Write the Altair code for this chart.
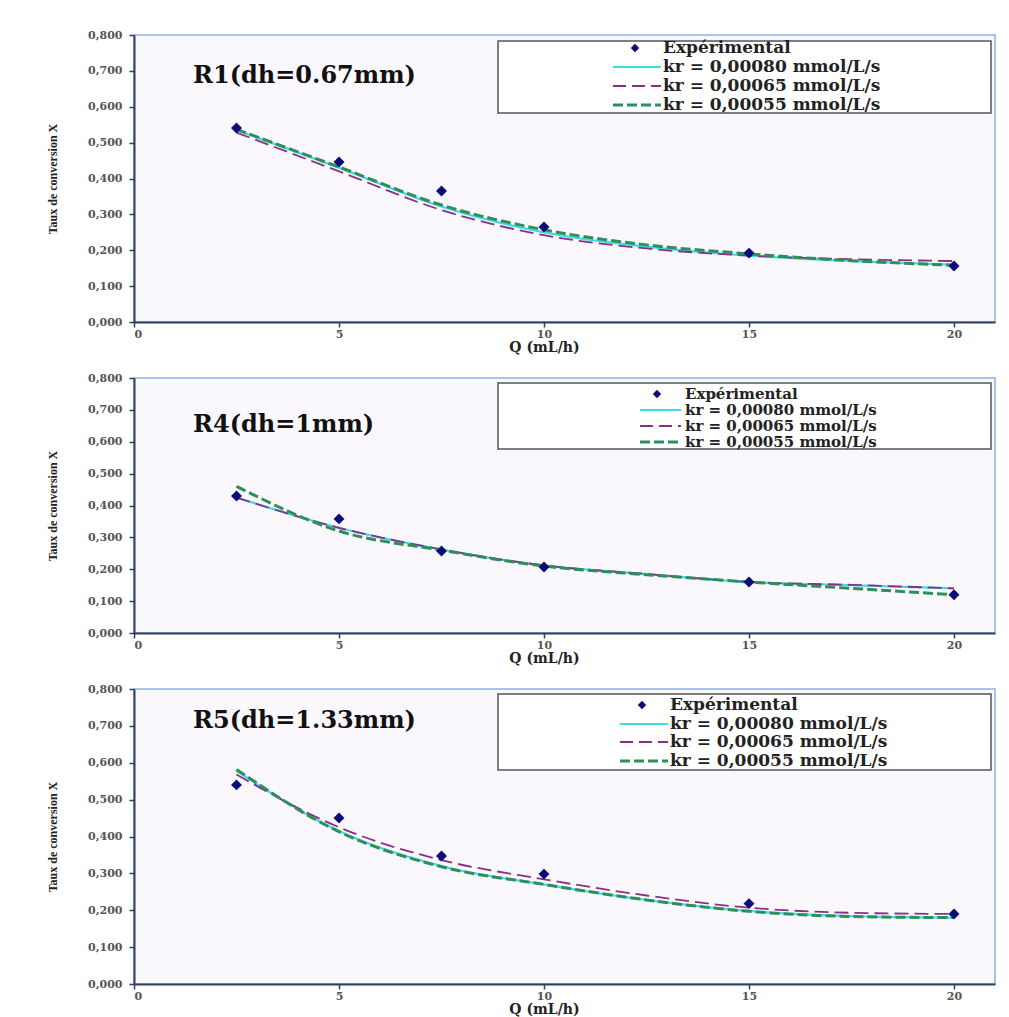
import altair as alt
import pandas as pd

# ---------------- data ----------------
Q_EXP = [2.5, 5, 7.5, 10, 15, 20]
Q_MODEL = [2.5, 5, 7.5, 10, 12.5, 15, 17.5, 20]
SERIES = ["Expérimental", "kr = 0,00080 mmol/L/s", "kr = 0,00065 mmol/L/s", "kr = 0,00055 mmol/L/s"]
PANEL_TITLES = ["R1(dh=0.67mm)", "R4(dh=1mm)", "R5(dh=1.33mm)"]
X_TICKS = [0, 5, 10, 15, 20]
Y_TICKS = [0.0, 0.1, 0.2, 0.3, 0.4, 0.5, 0.6, 0.7, 0.8]

R1_EXP = [0.541, 0.446, 0.365, 0.265, 0.192, 0.156]
R1_K80 = [0.535, 0.430, 0.322, 0.250, 0.210, 0.185, 0.170, 0.160]
R1_K65 = [0.528, 0.420, 0.312, 0.242, 0.205, 0.185, 0.175, 0.170]
R1_K55 = [0.537, 0.432, 0.326, 0.257, 0.215, 0.190, 0.171, 0.158]

R4_EXP = [0.430, 0.358, 0.257, 0.207, 0.160, 0.120]
R4_K80 = [0.425, 0.330, 0.262, 0.212, 0.185, 0.160, 0.150, 0.140]
R4_K65 = [0.425, 0.330, 0.262, 0.212, 0.185, 0.160, 0.151, 0.140]
R4_K55 = [0.460, 0.320, 0.260, 0.210, 0.183, 0.160, 0.140, 0.120]

R5_EXP = [0.540, 0.450, 0.347, 0.298, 0.218, 0.190]
R5_K80 = [0.578, 0.415, 0.320, 0.270, 0.228, 0.198, 0.184, 0.180]
R5_K65 = [0.568, 0.425, 0.336, 0.284, 0.240, 0.207, 0.193, 0.190]
R5_K55 = [0.582, 0.413, 0.318, 0.270, 0.228, 0.197, 0.183, 0.180]

PANELS = [
    (R1_EXP, R1_K80, R1_K65, R1_K55),
    (R4_EXP, R4_K80, R4_K65, R4_K55),
    (R5_EXP, R5_K80, R5_K65, R5_K55),
]

# ---------------- style ----------------
COL_EXP = "#0b0b7a"
COL_K80 = "#3fdbe3"
COL_K65 = "#8a2f86"
COL_K55 = "#2f8f5a"
DASH_K80 = [1, 0]
DASH_K65 = [14, 6]
DASH_K55 = [10, 4]
WIDTH_K = [2.2, 1.8, 3.0]

PANEL_H = [287, 255, 295]
PLOT_W = 861
LEG = [
    dict(box=(364, 6, 857, 78), rows=[13, 32, 51, 70], dx=501, lx=(479, 527), tx=529, title=(59, 41), fs=17),
    dict(box=(364, 5, 857, 71), rows=[16, 32, 48, 64], dx=523, lx=(506, 547), tx=551, title=(59, 47), fs=15),
    dict(box=(364, 5, 857, 81), rows=[16, 35, 53, 72], dx=508, lx=(486, 534), tx=536, title=(59, 32), fs=17),
]

x_scale = alt.Scale(domain=[0, 21], nice=False, zero=True)
y_scale = alt.Scale(domain=[0, 0.8], nice=False)

x_axis = alt.Axis(
    values=X_TICKS, title="Q (mL/h)", titleX=410, titleAlign="center", titlePadding=1,
    titleFont="DejaVu Serif", titleFontWeight="bold", titleFontSize=14, titleColor="#222",
    labelPadding=1,
)
y_axis = alt.Axis(
    values=Y_TICKS, title="Taux de conversion X", titlePadding=28,
    titleFont="Liberation Serif", titleFontWeight="bold", titleFontSize=12, titleColor="#222",
    labelExpr="replace(format(datum.value, '.3f'), '.', ',')", labelPadding=7,
)

one = pd.DataFrame({"k": [0]})


def panel(i):
    exp, k80, k65, k55 = PANELS[i]
    leg = LEG[i]
    df_exp = pd.DataFrame({"Q": Q_EXP, "X": exp})
    layers = []
    for vals, col, dash, w, name in [
        (k80, COL_K80, DASH_K80, WIDTH_K[0], SERIES[1]),
        (k65, COL_K65, DASH_K65, WIDTH_K[1], SERIES[2]),
        (k55, COL_K55, DASH_K55, WIDTH_K[2], SERIES[3]),
    ]:
        d = pd.DataFrame({"Q": Q_MODEL, "X": vals, "s": name})
        layers.append(
            alt.Chart(d).mark_line(color=col, strokeDash=dash, strokeWidth=w, interpolate="monotone").encode(
                x=alt.X("Q:Q", scale=x_scale, axis=x_axis),
                y=alt.Y("X:Q", scale=y_scale, axis=y_axis),
            )
        )
    layers.append(
        alt.Chart(df_exp).mark_point(shape="diamond", filled=True, color=COL_EXP, size=120, opacity=1).encode(
            x=alt.X("Q:Q", scale=x_scale, axis=x_axis),
            y=alt.Y("X:Q", scale=y_scale, axis=y_axis),
        )
    )
    layers.append(
        alt.Chart(pd.DataFrame({"t": [PANEL_TITLES[i]]})).mark_text(
            align="left", baseline="middle", font="DejaVu Serif", fontWeight="bold", fontSize=24, color="#111"
        ).encode(x=alt.value(leg["title"][0]), y=alt.value(leg["title"][1]), text="t:N")
    )
    bx1, by1, bx2, by2 = leg["box"]
    layers.append(
        alt.Chart(one).mark_rect(fill="white", stroke="#555555", strokeWidth=1.5).encode(
            x=alt.value(bx1), x2=alt.value(bx2), y=alt.value(by1), y2=alt.value(by2)
        )
    )
    rows = leg["rows"]
    layers.append(
        alt.Chart(one).mark_point(shape="diamond", filled=True, color=COL_EXP, size=70, opacity=1).encode(
            x=alt.value(leg["dx"]), y=alt.value(rows[0])
        )
    )
    for r, col, dash, w in [
        (rows[1], COL_K80, DASH_K80, WIDTH_K[0]),
        (rows[2], COL_K65, [13, 6], WIDTH_K[1]),
        (rows[3], COL_K55, [10, 4], WIDTH_K[2]),
    ]:
        layers.append(
            alt.Chart(one).mark_rule(color=col, strokeDash=dash, strokeWidth=w).encode(
                x=alt.value(leg["lx"][0]), x2=alt.value(leg["lx"][1]), y=alt.value(r)
            )
        )
    for r, name in zip(rows, SERIES):
        layers.append(
            alt.Chart(pd.DataFrame({"t": [name]})).mark_text(
                align="left", baseline="middle", font="DejaVu Serif", fontWeight="bold",
                fontSize=leg["fs"], color="#222"
            ).encode(x=alt.value(leg["tx"]), y=alt.value(r), text="t:N")
        )
    return alt.layer(*layers).properties(width=PLOT_W, height=PANEL_H[i])


chart = alt.vconcat(panel(0), panel(1), panel(2), spacing=16).properties(
    padding={"top": 20, "left": 37, "right": 5, "bottom": 0},
    background="white",
).configure_view(
    fill="#fbf8fd", stroke="#8db3e2", strokeWidth=1.5
).configure_axis(
    grid=False, domainColor="#2f3f60", domainWidth=2, tickColor="#2f3f60", tickWidth=1.5, tickSize=5,
    labelFont="DejaVu Serif", labelFontWeight="bold", labelFontSize=11, labelColor="#555555",
)

chart.save("out.html", embed_options={"renderer": "svg", "actions": False})
